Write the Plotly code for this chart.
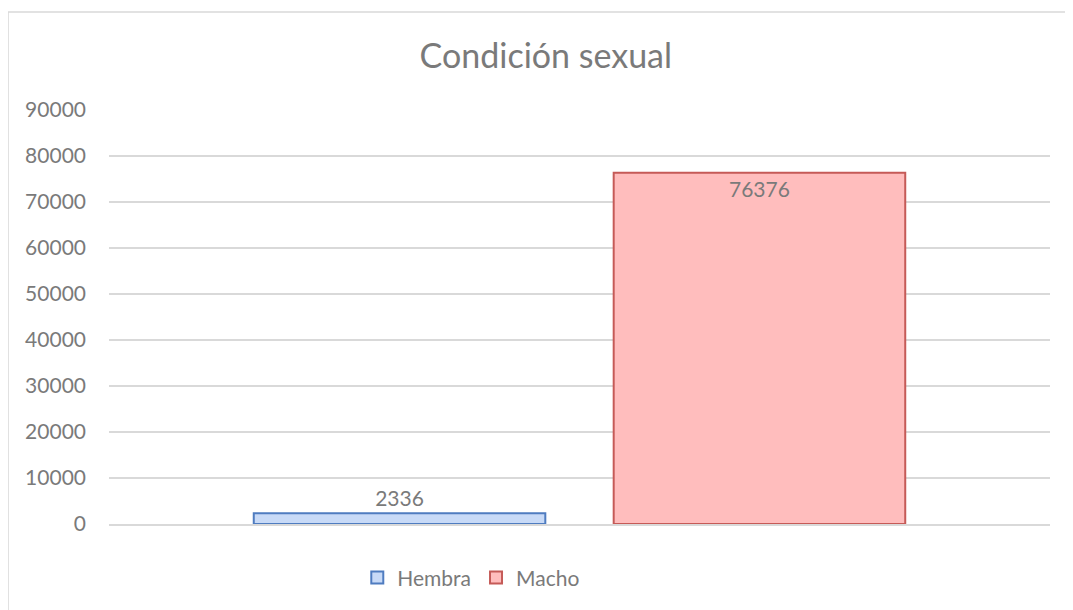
import plotly.graph_objects as go

category = ["Condición sexual"]
series_names = ["Hembra", "Macho"]
series_values = [2336, 76376]
fill_colors = ["#c8daf7", "#ffbdbd"]
line_colors = ["#4f7cc0", "#c55a57"]
text_positions = ["outside", "inside"]
y_ticks = [0, 10000, 20000, 30000, 40000, 50000, 60000, 70000, 80000, 90000]

FONT = "Lato"
GRAY = "#7a7a7a"

fig = go.Figure()
for name, val, fc, lc, tp in zip(series_names, series_values, fill_colors, line_colors, text_positions):
    fig.add_trace(go.Bar(
        name=name, x=category, y=[val],
        marker=dict(color=fc, line=dict(color=lc, width=2)),
        text=[f"{val}"], textposition=tp, insidetextanchor="end",
        textfont=dict(family=FONT, size=21, color=GRAY),
        cliponaxis=False,
    ))

fig.update_layout(
    width=1065, height=602,
    margin=dict(l=101, r=23, t=102, b=86),
    paper_bgcolor="white", plot_bgcolor="white",
    barmode="group", bargap=0.235, bargroupgap=0.19,
    title=dict(text="Condición sexual", x=0.505, xanchor="center", y=0.92, yanchor="middle",
               font=dict(family=FONT, size=34, color=GRAY)),
    showlegend=True,
    legend=dict(orientation="h", x=0.385, xanchor="center", y=-0.13, yanchor="middle",
                font=dict(family=FONT, size=21, color=GRAY), traceorder="normal"),
    font=dict(family=FONT, color=GRAY),
)
fig.update_xaxes(showticklabels=False, showgrid=False, showline=True, linecolor="#d9d9d9", linewidth=1.5)
fig.update_yaxes(range=[0, 90000], tickvals=y_ticks, ticktext=[str(t) for t in y_ticks],
                 showgrid=True, gridcolor="#d9d9d9", gridwidth=1.5, zeroline=False,
                 showline=False, ticks="", ticklabelstandoff=22,
                 tickfont=dict(family=FONT, size=21, color=GRAY))
fig.add_shape(type="rect", xref="paper", yref="paper", x0=-0.1073, x1=1.2, y0=-0.5, y1=1.2367,
              line=dict(color="#d9d9d9", width=1.5), fillcolor="rgba(0,0,0,0)", layer="below")

fig.write_html("out.html")
